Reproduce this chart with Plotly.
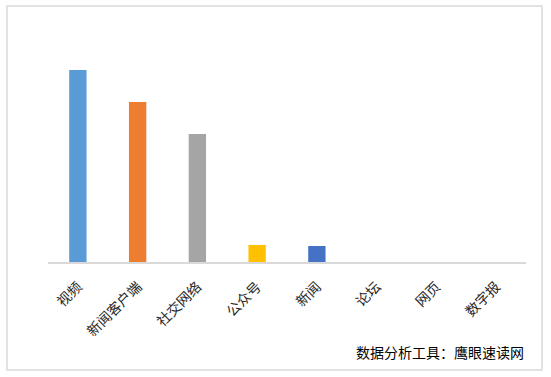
import plotly.graph_objects as go

categories = ["视频", "新闻客户端", "社交网络", "公众号", "新闻", "论坛", "网页", "数字报"]
values = [36, 30, 24, 3.2, 3.0, 0, 0, 0]
colors = ["#5B9BD5", "#ED7D31", "#A5A5A5", "#FFC000", "#4472C4", "#5B9BD5", "#5B9BD5", "#5B9BD5"]

W, H = 551, 377
L, R, T, B = 48, 25, 22, 115
pw, ph = W - L - R, H - T - B

def px_x(x):
    return (x - L) / pw

def px_y(y):
    return (H - B - y) / ph

fig = go.Figure(go.Bar(
    x=categories, y=values, marker=dict(color=colors, line=dict(width=0)),
    width=0.29, hoverinfo="x+y",
))

fig.update_layout(
    width=W, height=H,
    margin=dict(l=L, r=R, t=T, b=B, autoexpand=False),
    paper_bgcolor="white", plot_bgcolor="white",
    showlegend=False,
    font=dict(family="Noto Sans CJK SC", size=14, color="#333333"),
    xaxis=dict(
        showline=True, linecolor="#D9D9D9", linewidth=2,
        tickangle=-45, ticks="", showgrid=False, zeroline=False,
        ticklabelstandoff=9,
        tickfont=dict(family="Noto Sans CJK SC", size=14, color="#262626"),
    ),
    yaxis=dict(range=[0, 45], visible=False, showgrid=False, zeroline=False),
    shapes=[dict(
        type="rect", xref="paper", yref="paper",
        x0=px_x(7), x1=px_x(542), y0=px_y(370), y1=px_y(6),
        line=dict(color="#D9D9D9", width=1.5), fillcolor="rgba(0,0,0,0)", layer="below",
    )],
    annotations=[dict(
        text="数据分析工具：鹰眼速读网", xref="paper", yref="paper",
        x=px_x(526), y=px_y(352), xanchor="right", yanchor="middle",
        showarrow=False, font=dict(family="Noto Sans CJK SC", size=14, color="#000000"),
    )],
)

fig.write_html(
    "out.html",
    config={"displayModeBar": False},
    post_script="document.body.style.margin='0';document.body.style.overflow='hidden';",
)
